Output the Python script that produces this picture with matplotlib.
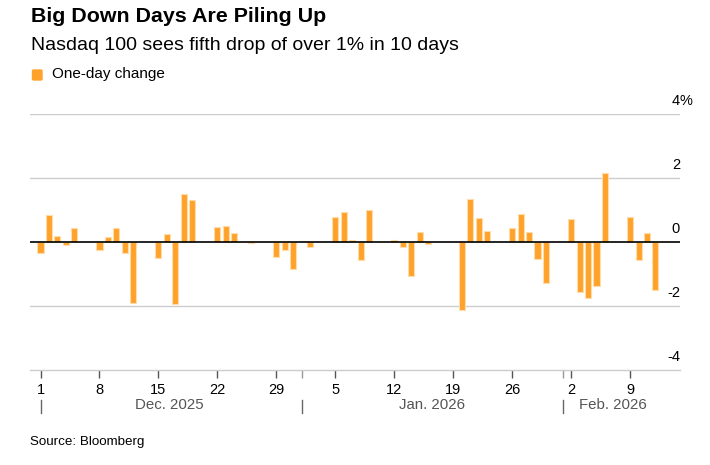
import matplotlib
matplotlib.use('Agg')
import matplotlib.pyplot as plt
import matplotlib.transforms as mtransforms
import pandas as pd

plt.rcParams['font.family'] = ['Liberation Sans', 'DejaVu Sans']

# trading days and one-day % change of the Nasdaq 100
dates = pd.to_datetime([
    '2025-12-01', '2025-12-02', '2025-12-03', '2025-12-04', '2025-12-05',
    '2025-12-08', '2025-12-09', '2025-12-10', '2025-12-11', '2025-12-12',
    '2025-12-15', '2025-12-16', '2025-12-17', '2025-12-18', '2025-12-19',
    '2025-12-22', '2025-12-23', '2025-12-24', '2025-12-26',
    '2025-12-29', '2025-12-30', '2025-12-31', '2026-01-02',
    '2026-01-05', '2026-01-06', '2026-01-07', '2026-01-08', '2026-01-09',
    '2026-01-12', '2026-01-13', '2026-01-14', '2026-01-15', '2026-01-16',
    '2026-01-20', '2026-01-21', '2026-01-22', '2026-01-23',
    '2026-01-26', '2026-01-27', '2026-01-28', '2026-01-29', '2026-01-30',
    '2026-02-02', '2026-02-03', '2026-02-04', '2026-02-05', '2026-02-06',
    '2026-02-09', '2026-02-10', '2026-02-11', '2026-02-12',
])
change = [
    -0.35, 0.84, 0.20, -0.09, 0.45,
    -0.25, 0.17, 0.43, -0.34, -1.91,
    -0.51, 0.26, -1.93, 1.51, 1.31,
    0.46, 0.50, 0.27, -0.04,
    -0.46, -0.24, -0.83, -0.17,
    0.78, 0.94, 0.05, -0.56, 1.01,
    0.07, -0.17, -1.07, 0.32, -0.06,
    -2.13, 1.35, 0.76, 0.34,
    0.43, 0.89, 0.32, -0.53, -1.28,
    0.73, -1.55, -1.76, -1.37, 2.15,
    0.77, -0.55, 0.29, -1.51,
]

y_ticks = [-4, -2, 0, 2, 4]
week_ticks = pd.to_datetime(['2025-12-01', '2025-12-08', '2025-12-15', '2025-12-22',
                             '2025-12-29', '2026-01-05', '2026-01-12', '2026-01-19',
                             '2026-01-26', '2026-02-02', '2026-02-09'])
month_starts = pd.to_datetime(['2025-12-01', '2026-01-01', '2026-02-01'])
month_names = ['Dec. 2025', 'Jan. 2026', 'Feb. 2026']
month_label_pos = pd.to_datetime(['2025-12-16 06:00', '2026-01-16 12:00', '2026-02-06 22:00'])

orange = '#FFA22C'

fig = plt.figure(figsize=(7.1, 4.65), dpi=100)
ax = fig.add_axes([30 / 710, (465 - 370) / 465, 650 / 710, 256 / 465])

ax.bar(dates, change, width=0.72, color=orange, edgecolor='#FFDDAA', linewidth=0.8, zorder=3)

ax.set_ylim(-4, 4)
ax.set_xlim(pd.Timestamp('2025-11-29 18:00'), pd.Timestamp('2026-02-14 22:00'))

for v in y_ticks:
    if v == 0:
        ax.axhline(0, color='black', linewidth=1.2, zorder=4)
    elif v != -4:
        ax.axhline(v, color='#CCCCCC', linewidth=1, zorder=1)

for s in ['left', 'right', 'top']:
    ax.spines[s].set_visible(False)
ax.spines['bottom'].set_color('#CCCCCC')
ax.spines['bottom'].set_linewidth(1)

ax.set_yticks([])
lab_trans = mtransforms.blended_transform_factory(ax.transAxes, ax.transData)
off = mtransforms.ScaledTranslation(0, 4 / 72, fig.dpi_scale_trans)
for v in y_ticks:
    ax.text(1.0, v, f'{v}', transform=lab_trans + off, ha='right', va='bottom',
            fontsize=10.5, color='black')
    if v == 4:
        ax.text(1.0, v, '%', transform=lab_trans + off, ha='left', va='bottom',
                fontsize=10.5, color='black')

# weekly ticks with day numbers, plus small marks at month starts
ax.set_xticks(week_ticks)
ax.set_xticklabels([str(d.day) for d in week_ticks])
ax.set_xticks(month_starts[1:], minor=True)
ax.tick_params(axis='x', which='major', length=6, width=1, color='#555555',
               labelsize=10.5, pad=3)
ax.tick_params(axis='x', which='minor', length=6, width=1, color='#999999')

xt = mtransforms.blended_transform_factory(ax.transData, fig.transFigure)
for d in month_starts:
    ax.plot([d, d], [1 - 400 / 465, 1 - 413 / 465], transform=xt, color='#666666',
            linewidth=1, clip_on=False)
for d, name in zip(month_label_pos, month_names):
    ax.text(d, 1 - 405 / 465, name, transform=xt, ha='center', va='center',
            fontsize=10.8, color='#555555')

fig.text(31 / 710, 1 - 16 / 465, 'Big Down Days Are Piling Up', fontsize=15.4,
         fontweight='bold', ha='left', va='center')
fig.text(31 / 710, 1 - 46 / 465, 'Nasdaq 100 sees fifth drop of over 1% in 10 days',
         fontsize=14, ha='left', va='center')
fig.patches.append(matplotlib.patches.FancyBboxPatch(
    (32.5 / 710, 1 - 80 / 465), 9.5 / 710, 10 / 465,
    boxstyle='round,pad=0,rounding_size=0.002',
    transform=fig.transFigure, color=orange, figure=fig))
fig.text(52 / 710, 1 - 74 / 465, 'One-day change', fontsize=11, ha='left', va='center')
fig.text(30 / 710, 1 - 442 / 465, 'Source: Bloomberg', fontsize=9.6, ha='left', va='center')

fig.savefig('out.png', dpi=100)
